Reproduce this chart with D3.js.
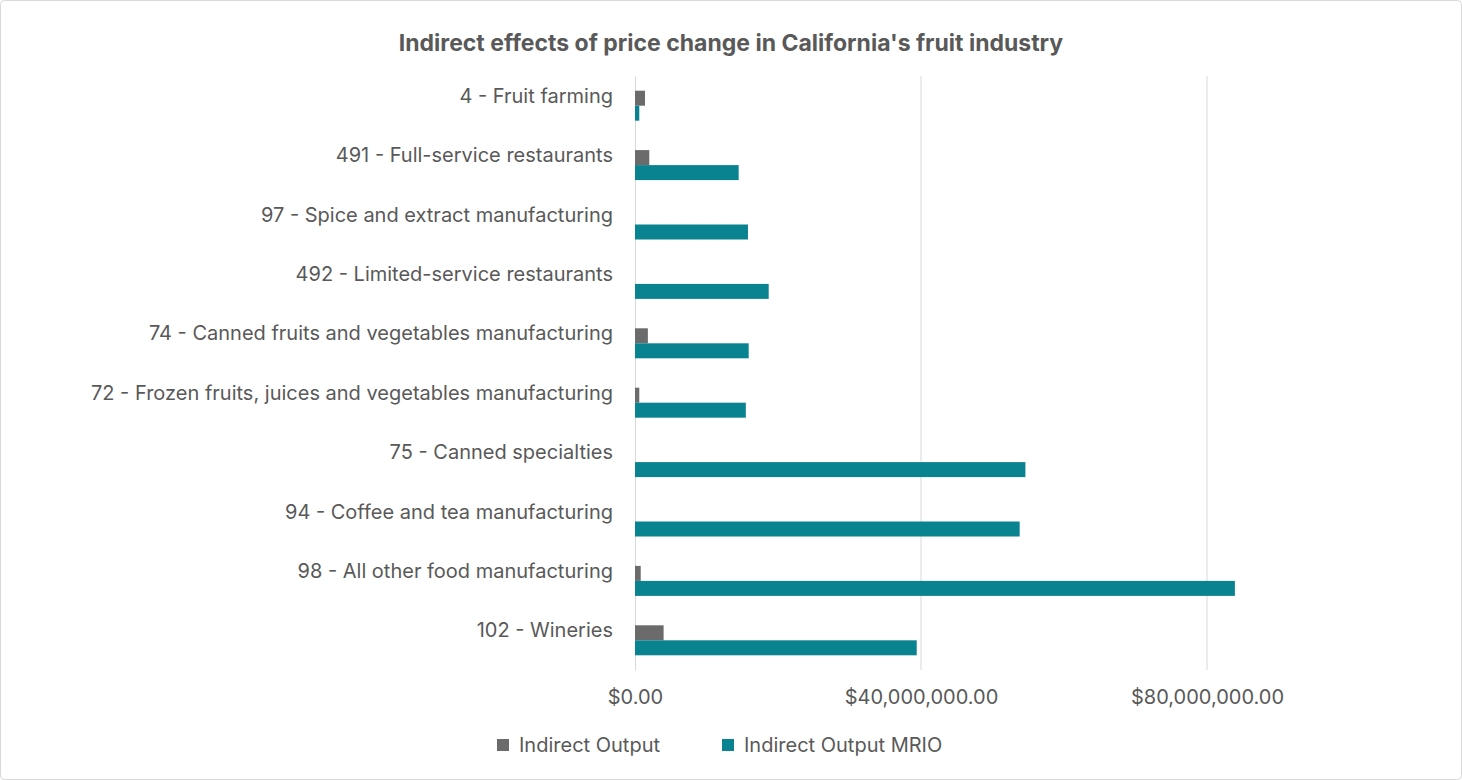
<!DOCTYPE html>
<html>
<head>
<script src="https://d3js.org/d3.v7.min.js"></script>
<style>
body{margin:0;background:#fff;font-family:Inter,'Noto Sans',sans-serif;}
text{font-family:Inter,'Noto Sans',sans-serif;fill:#595959;}
</style>
</head>
<body>
<div class="chart"></div>
<script>
const categories = ["4 - Fruit farming","491 - Full-service restaurants","97 - Spice and extract manufacturing","492 - Limited-service restaurants","74 - Canned fruits and vegetables manufacturing","72 - Frozen fruits, juices and vegetables manufacturing","75 - Canned specialties","94 - Coffee and tea manufacturing","98 - All other food manufacturing","102 - Wineries"];
const indirectOutput = [1.4e6,2.0e6,0,0,1.8e6,0.6e6,0,0,0.8e6,4.0e6];
const indirectOutputMRIO = [0.6e6,14.5e6,15.8e6,18.7e6,15.9e6,15.5e6,54.6e6,53.8e6,83.9e6,39.4e6];
const seriesNames = ["Indirect Output","Indirect Output MRIO"];
const colors = ["#6b6b6b","#0a8390"];
const ticks = [0,40e6,80e6];

const W=1462,H=780;
const svg=d3.select('.chart').append('svg').attr('width',W).attr('height',H);
svg.append('rect').attr('x',0.5).attr('y',0.5).attr('width',W-1).attr('height',H-1).attr('rx',4).attr('fill','#fff').attr('stroke','#d9d9d9');
svg.append('text').attr('x',731).attr('y',51).attr('text-anchor','middle').attr('font-size',23).attr('font-weight','bold').text("Indirect effects of price change in California's fruit industry");

const x=d3.scaleLinear().domain([0,100e6]).range([635,635+7.15e-6*100e6]);
const y=d3.scaleBand().domain(categories).range([76,670]);
const bandH=15;

svg.append('g').selectAll('line').data(ticks.slice(1)).join('line')
 .attr('x1',d=>x(d)).attr('x2',d=>x(d)).attr('y1',76).attr('y2',670).attr('stroke','#d9d9d9');

const xAxis=d3.axisBottom(x).tickValues(ticks).tickSize(0).tickFormat(d=>'$'+d3.format(',.2f')(d));
const ga=svg.append('g').attr('transform','translate(0,670)').call(xAxis);
ga.select('.domain').remove();
ga.selectAll('text').attr('font-size',20).attr('dy',0).attr('y',34);

const yAxis=d3.axisLeft(y).tickSize(0).tickPadding(22);
const gy=svg.append('g').attr('transform','translate(635,0)').call(yAxis);
gy.select('.domain').attr('stroke','#d9d9d9');
gy.selectAll('text').attr('font-size',20).attr('dy','-0.05em').attr('transform','translate(0,-2)');

[indirectOutput,indirectOutputMRIO].forEach((vals,si)=>{
 svg.append('g').selectAll('rect').data(vals).join('rect')
  .attr('x',x(0)).attr('width',d=>x(d)-x(0))
  .attr('y',(d,i)=>y(categories[i])+y.bandwidth()/2-bandH+si*bandH)
  .attr('height',bandH).attr('fill',colors[si]);
});

const lg=svg.append('g');
const lx=[497,722];
seriesNames.forEach((n,i)=>{
 lg.append('rect').attr('x',lx[i]).attr('y',739).attr('width',12).attr('height',12).attr('fill',colors[i]);
 lg.append('text').attr('x',lx[i]+22).attr('y',752).attr('font-size',20).text(n);
});
</script>
</body>
</html>
